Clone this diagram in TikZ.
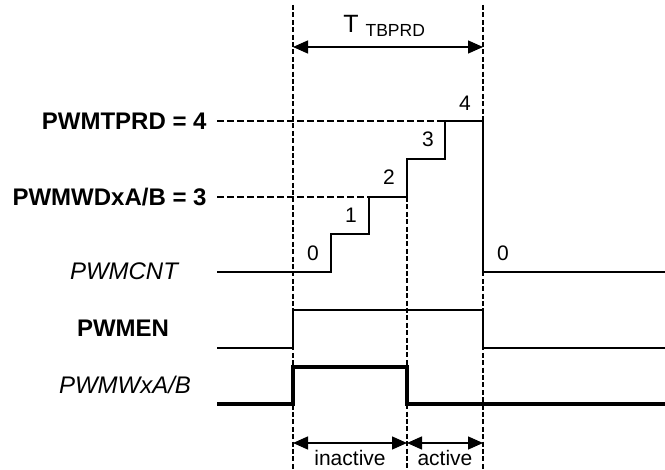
\documentclass[tikz,border=0pt]{standalone}
\usepackage{fontspec}
\setmainfont{Liberation Sans}
\usetikzlibrary{arrows.meta}
\begin{document}
\begin{tikzpicture}[
    x=0.5pt, y=-0.5pt,
    sig/.style={line width=1pt},
    wide/.style={line width=1.7pt},
    guide/.style={line width=0.6pt, dash pattern=on 2.5pt off 1.2pt},
    level/.style={line width=0.6pt, dash pattern=on 3.5pt off 1.5pt},
    span/.style={{Triangle[length=7.5pt, width=6.5pt]}-{Triangle[length=7.5pt, width=6.5pt]}, line width=0.7pt},
    regname/.style={inner sep=0pt, font=\fontsize{12}{14}\selectfont\bfseries},
    signame/.style={inner sep=0pt, font=\fontsize{12}{14}\selectfont\itshape},
    count/.style={inner sep=0pt, font=\fontsize{10.5}{12}\selectfont}
]
\useasboundingbox (0,0) rectangle (665,470);

\coordinate (start) at (293,47);
\coordinate (stop) at (483,47);
\coordinate (ina) at (293,443);
\coordinate (mid) at (407,443);
\coordinate (act) at (483,443);

\draw[guide] (293,5) -- (293,470);
\draw[guide] (483,5) -- (483,470);
\draw[guide] (407,197) -- (407,470);
\draw[level] (217,121) -- (445,121);
\draw[level] (217,197) -- (369,197);

\node[regname, anchor=east] at (207,121) (prd) {PWMTPRD = 4};
\node[regname, anchor=east] at (207,197) (wd) {PWMWDxA/B = 3};
\node[signame] at (124,271) (cnt) {PWMCNT};
\node[regname] at (123,328) (en) {PWMEN};
\node[signame] at (125,385) (out) {PWMWxA/B};

\draw[sig] (217,272) -- (331,272) -- (331,234) -- (369,234) -- (369,197) -- (407,197)
    -- (407,159) -- (445,159) -- (445,121) -- (483,121) -- (483,272) -- (665,272);
\draw[sig] (217,348) -- (293,348) -- (293,310) -- (483,310) -- (483,348) -- (665,348);
\draw[wide] (217,404) -- (293,404) -- (293,367) -- (407,367) -- (407,404) -- (665,404);

\node[count] at (313,253) (n0) {0};
\node[count] at (351,215) (n1) {1};
\node[count] at (389,177) (n2) {2};
\node[count] at (428,139) (n3) {3};
\node[count] at (465,103) (n4) {4};
\node[count] at (503,253) (n5) {0};

\draw[span] (start) -- (stop);
\node[inner sep=0pt, font=\fontsize{12.5}{14}\selectfont, anchor=base west] at (343,33) (tprd) {T \textsubscript{TBPRD}};
\draw[span] (ina) -- (mid);
\draw[span] (mid) -- (act);
\node[count, anchor=base] at (350,466) (lbina) {inactive};
\node[count, anchor=base] at (445,466) (lbact) {active};
\end{tikzpicture}
\end{document}
